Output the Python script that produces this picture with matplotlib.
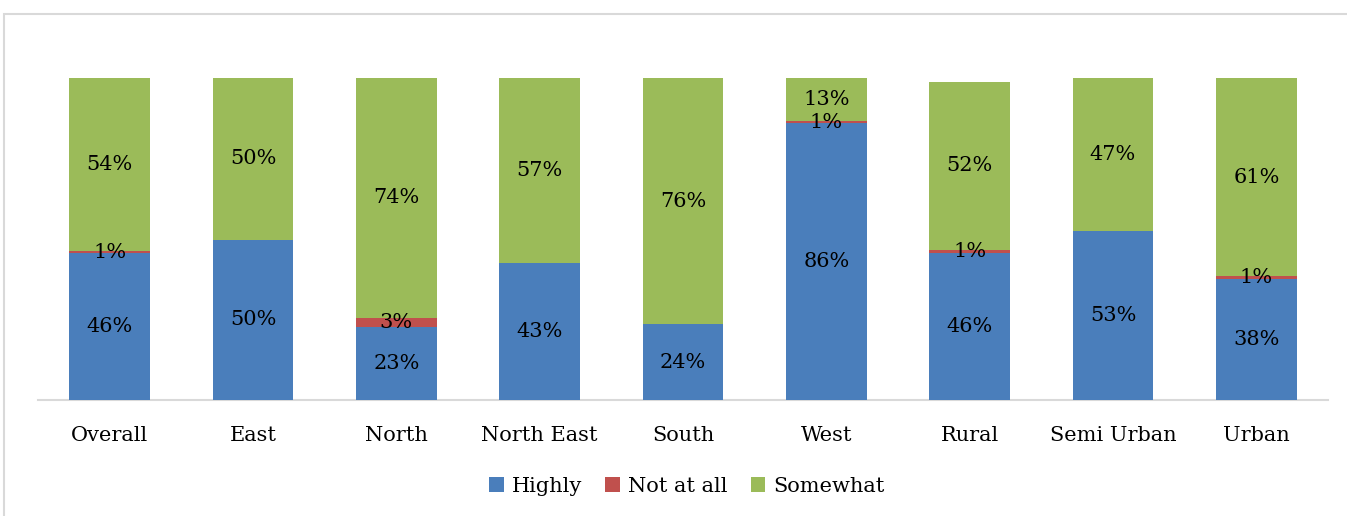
import matplotlib
matplotlib.use("Agg")
import matplotlib.pyplot as plt
from matplotlib.patches import Rectangle
import numpy as np

categories = ["Overall", "East", "North", "North East", "South", "West", "Rural", "Semi Urban", "Urban"]
highly = [45.6, 49.7, 22.6, 42.6, 23.6, 85.9, 45.7, 52.6, 37.7]
not_at_all = [0.6, 0.0, 3.0, 0.0, 0.0, 0.7, 0.9, 0.0, 0.8]
somewhat = [53.8, 50.3, 74.4, 57.4, 76.4, 13.4, 52.2, 47.4, 61.4]

series_names = ["Highly", "Not at all", "Somewhat"]
colors = ["#4a7ebb", "#c0504d", "#9bbb59"]

plt.rcParams['font.family'] = ['DejaVu Serif']
FS = 15

fig = plt.figure(figsize=(13.47, 5.16), dpi=100)
ax = fig.add_axes([38/1347, 116/516, (1328-38)/1347, (400-78)/516])

x = np.arange(len(categories))
width = 0.565
bottom = np.zeros(len(categories))
for name, vals, col in zip(series_names, [highly, not_at_all, somewhat], colors):
    vals = np.array(vals)
    ax.bar(x, vals, width, bottom=bottom, color=col, label=name,
           edgecolor='none', zorder=2)
    for xi, b, v in zip(x, bottom, vals):
        if v > 0:
            ax.text(xi, b + v / 2, f"{int(round(v))}%", ha='center', va='center',
                    fontsize=FS, color='black', zorder=3)
    bottom = bottom + vals

ax.set_xlim(-0.5, len(categories) - 0.5)
ax.set_ylim(0, 100)
ax.set_xticks(x)
ax.set_xticklabels(categories, fontsize=FS)
ax.tick_params(axis='x', length=0, pad=19)
ax.set_yticks([])
for s in ['top', 'right', 'left']:
    ax.spines[s].set_visible(False)
ax.spines['bottom'].set_color('#d9d9d9')
ax.spines['bottom'].set_linewidth(1.5)
ax.spines['bottom'].set_zorder(1)

fig.legend(loc='center', bbox_to_anchor=(687/1347, 1 - 486/516), ncol=3,
           frameon=False, fontsize=FS, handlelength=0.7, handleheight=0.7,
           handletextpad=0.4, columnspacing=1.1)

fig.add_artist(Rectangle((3.5/1347, -0.1), 1.2, 1 - 14/516 + 0.1,
                         transform=fig.transFigure, fill=False,
                         edgecolor='#d9d9d9', linewidth=1.5))

fig.savefig("out.png", dpi=100)
